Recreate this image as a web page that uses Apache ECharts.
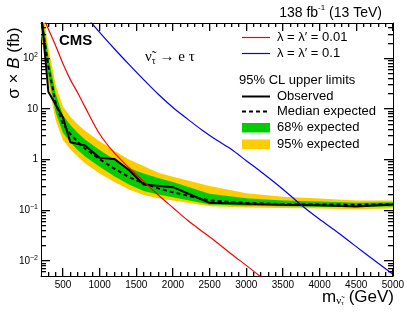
<!DOCTYPE html>
<html><head><meta charset="utf-8">
<script src="https://cdn.jsdelivr.net/npm/echarts@6/dist/echarts.min.js"></script>
<style>html,body{margin:0;padding:0;background:#fff}#c{width:407px;height:318px}</style>
</head><body><div id="c"></div>
<script>
// ---- data ----
const mass      = [200, 300, 400, 500, 600, 700, 800, 1000, 1200, 1400, 1600, 1800, 2000, 2500, 3000, 3500, 4000, 4500, 5000];
const expMedian = [650, 70, 13, 5.0, 3.2, 2.25, 1.65, 1.02, 0.66, 0.45, 0.34, 0.27, 0.225, 0.155, 0.14, 0.132, 0.13, 0.128, 0.132];
const exp1Up    = [1000, 110, 20, 7.5, 4.8, 3.4, 2.5, 1.55, 1.0, 0.68, 0.53, 0.43, 0.36, 0.21, 0.172, 0.155, 0.148, 0.14, 0.143];
const exp1Down  = [420, 45, 8.5, 3.4, 2.2, 1.55, 1.15, 0.72, 0.47, 0.32, 0.24, 0.205, 0.18, 0.13, 0.122, 0.12, 0.117, 0.115, 0.118];
const exp2Up    = [1500, 170, 30, 11, 7.0, 5.0, 3.7, 2.3, 1.5, 1.0, 0.75, 0.55, 0.46, 0.3, 0.215, 0.185, 0.17, 0.155, 0.155];
const exp2Down  = [300, 32, 6, 2.4, 1.6, 1.15, 0.85, 0.53, 0.36, 0.255, 0.2, 0.172, 0.155, 0.12, 0.113, 0.11, 0.108, 0.104, 0.108];
const obsMass   = [200, 300, 500, 600, 800, 1000, 1200, 1400, 1600, 2000, 2500, 3000, 3500, 4000, 4500, 5000];
const observed  = [900, 22, 6.8, 2.2, 1.9, 1.08, 1.03, 0.62, 0.32, 0.285, 0.14, 0.134, 0.128, 0.125, 0.118, 0.13];
const redMass   = [200, 250, 300, 400, 500, 600, 700, 800, 1000, 1200, 1400, 1600, 1800, 2000, 2200, 2400, 2600, 2800, 3000, 3200];
const redXsec   = [830, 560, 380, 178, 78, 38, 21, 11, 3.2, 1.35, 0.69, 0.37, 0.2, 0.112, 0.063, 0.038, 0.023, 0.0135, 0.0081, 0.0048];
const blueMass  = [800, 1000, 1200, 1400, 1600, 1800, 2000, 2200, 2400, 2600, 2800, 3000, 3200, 3400, 3600, 3800, 4000, 4200, 4400, 4600, 4800, 5000];
const blueXsec  = [720, 325, 155, 76, 38, 19.5, 10.7, 6.3, 3.8, 2.4, 1.58, 0.95, 0.575, 0.34, 0.195, 0.11, 0.066, 0.041, 0.0245, 0.0148, 0.0089, 0.0054];
const xMajor    = [500, 1000, 1500, 2000, 2500, 3000, 3500, 4000, 4500, 5000];
const xMinor    = [300, 400, 600, 700, 800, 900, 1100, 1200, 1300, 1400, 1600, 1700, 1800, 1900,
                   2100, 2200, 2300, 2400, 2600, 2700, 2800, 2900, 3100, 3200, 3300, 3400,
                   3600, 3700, 3800, 3900, 4100, 4200, 4300, 4400, 4600, 4700, 4800, 4900];
const yMajor    = [0.01, 0.1, 1, 10, 100];
const yMinor    = [0.006,0.007,0.008,0.009, 0.02,0.03,0.04,0.05,0.06,0.07,0.08,0.09,
                   0.2,0.3,0.4,0.5,0.6,0.7,0.8,0.9, 2,3,4,5,6,7,8,9, 20,30,40,50,60,70,80,90, 200,300,400];

const FONT = '"Liberation Sans", Arial, Helvetica, sans-serif';
const SERIF = '"Liberation Serif", "Times New Roman", serif';
const XMIN = 200, XMAX = 5000, YMIN = 0.005, YMAX = 500;

function pairs(xs, ys){ return xs.map((x,i)=>[x, ys[i]]); }

function bandItem(up, down, color){
  return function(params, api){
    if (params.dataIndex !== 0) return;
    const pts = [];
    for (let i=0;i<mass.length;i++) pts.push(api.coord([mass[i], up[i]]));
    for (let i=mass.length-1;i>=0;i--) pts.push(api.coord([mass[i], down[i]]));
    return {type:'polygon', shape:{points:pts}, style:{fill:color}};
  };
}

function tickItem(params, api){
  if (params.dataIndex !== 0) return;
  const cs = params.coordSys;
  const left = Math.round(cs.x), right = Math.round(cs.x + cs.width), top = Math.round(cs.y), bottom = Math.round(cs.y + cs.height);
  const ch = [];
  function hrect(x, y, w){ ch.push({type:'rect', shape:{x:x, y:Math.floor(y), width:w, height:1.3}, style:{fill:'#000'}}); }
  function vrect(x, y, h){ ch.push({type:'rect', shape:{x:Math.floor(x), y:y, width:1.3, height:h}, style:{fill:'#000'}}); }
  function yt(v, len){
    const y = api.coord([XMIN, v])[1];
    hrect(left, y, len);
    hrect(right - len, y, len);
  }
  function xt(v, len){
    const x = api.coord([v, 1])[0];
    vrect(x, bottom - len, len);
    vrect(x, top, len);
  }
  yMinor.forEach(v=>yt(v, 5));
  yMajor.forEach(v=>yt(v, 9));
  xMinor.forEach(v=>xt(v, 4));
  xMajor.forEach(v=>xt(v, 8));
  return {type:'group', children:ch};
}

function yFmt(v){
  const e = Math.round(Math.log10(v));
  if (Math.abs(Math.log10(v) - e) > 1e-6) return '';
  if (e === 0) return '1';
  if (e === 1) return '10';
  return '10{s|' + (e < 0 ? '\u2212' + (-e) : e) + '}';
}

const xBase = {type:'value', min:XMIN, max:XMAX, splitLine:{show:false}};
const chart = echarts.init(document.getElementById('c'));
chart.setOption({
  animation:false,
  backgroundColor:'#fff',
  grid:{left:41, right:14, top:23, bottom:42, show:false},
  xAxis:[
    Object.assign({}, xBase, {position:'bottom',
      axisLine:{onZero:false, lineStyle:{color:'#000', width:1}},
      axisTick:{show:false},
      axisLabel:{customValues:xMajor, formatter:v=>String(v), fontSize:10, fontFamily:FONT, color:'#000', margin:4}}),
    Object.assign({}, xBase, {position:'top',
      axisLine:{onZero:false, lineStyle:{color:'#000', width:1}},
      axisTick:{show:false},
      axisLabel:{show:false}})
  ],
  yAxis:[
    {type:'log', logBase:10, min:YMIN, max:YMAX, position:'left', splitLine:{show:false},
      axisLine:{show:true, onZero:false, lineStyle:{color:'#000', width:1}},
      axisTick:{show:false},
      axisLabel:{formatter:yFmt, fontSize:10, fontFamily:FONT, color:'#000', margin:3, lineHeight:13,
        showMinLabel:false, showMaxLabel:false,
        rich:{s:{fontSize:7, fontFamily:FONT, color:'#000', verticalAlign:'top', lineHeight:8}}}},
    {type:'log', logBase:10, min:YMIN, max:YMAX, position:'right', splitLine:{show:false},
      axisLine:{show:true, onZero:false, lineStyle:{color:'#000', width:1}},
      axisTick:{show:false},
      axisLabel:{show:false}}
  ],
  series:[
    {type:'custom', clip:true, data:[[1000,1]], encode:{x:0,y:1}, renderItem:bandItem(exp2Up, exp2Down, '#ffcc00'), z:1},
    {type:'custom', clip:true, data:[[1000,1]], encode:{x:0,y:1}, renderItem:bandItem(exp1Up, exp1Down, '#00cc00'), z:2},
    {type:'line', data:pairs(mass, expMedian), showSymbol:false, symbol:'none', clip:true, z:3,
      lineStyle:{color:'#000', width:2, type:[4,3]}},
    {type:'line', data:pairs(obsMass, observed), showSymbol:false, symbol:'none', clip:true, z:4,
      lineStyle:{color:'#000', width:2}},
    {type:'line', data:pairs(redMass, redXsec), showSymbol:false, symbol:'none', smooth:0.3, clip:true, z:5,
      lineStyle:{color:'#ff0000', width:1.2}},
    {type:'line', data:pairs(blueMass, blueXsec), showSymbol:false, symbol:'none', smooth:0.3, clip:true, z:5,
      lineStyle:{color:'#0000ff', width:1.2}},
    {type:'custom', data:[[1000,1]], encode:{x:0,y:1}, renderItem:tickItem, z:10}
  ],
  graphic:[
    {type:'text', style:{text:'{a|138 fb}{s|-1}{a| (13 TeV)}', x:382, y:12, align:'right', verticalAlign:'middle',
      rich:{a:{fontSize:14, fontFamily:FONT, fill:'#000', lineHeight:16, verticalAlign:'bottom'},
            s:{fontSize:8, fontFamily:FONT, fill:'#000', verticalAlign:'top', lineHeight:8}}}},
    {type:'text', style:{text:'CMS', x:59, y:41, fontSize:15, fontWeight:'bold', fontFamily:FONT, fill:'#000', verticalAlign:'middle'}},
    {type:'text', style:{text:'{a|\u03BD\u0303}{s|\u03C4}{a| \u2192 e \u03C4}', x:145, y:58, verticalAlign:'middle',
      rich:{a:{fontSize:15, fontFamily:SERIF, fill:'#000', lineHeight:16, verticalAlign:'top'},
            s:{fontSize:10, fontFamily:SERIF, fill:'#000', verticalAlign:'bottom', lineHeight:10, padding:[9,0,0,0]}}}},
    {type:'text', rotation:Math.PI/2, x:14, y:63, style:{text:'{a|\u03C3 \u00D7 }{i|B}{a| (fb)}', align:'center', verticalAlign:'middle',
      rich:{a:{fontSize:17, fontFamily:FONT, fill:'#000'}, i:{fontSize:17, fontFamily:FONT, fontStyle:'italic', fill:'#000'}}}},
    {type:'text', style:{text:'{a|m}{s|\u03BD\u0303}{ss|\u03C4}{a| (GeV)}', x:394, y:298, align:'right', verticalAlign:'middle',
      rich:{a:{fontSize:17, fontFamily:FONT, fill:'#000', lineHeight:18, verticalAlign:'top'},
            s:{fontSize:11, fontFamily:SERIF, fill:'#000', verticalAlign:'bottom', lineHeight:11, padding:[12,0,0,0]},
            ss:{fontSize:7, fontFamily:SERIF, fill:'#000', verticalAlign:'bottom', lineHeight:7, padding:[16,0,0,0]}}}},
    {type:'line', shape:{x1:242, y1:37.5, x2:270, y2:37.5}, style:{stroke:'#ff0000', lineWidth:1.2}},
    {type:'text', style:{text:'\u03BB = \u03BB\u2032 = 0.01', x:277, y:37.5, fontSize:13, fontFamily:FONT, fill:'#000', verticalAlign:'middle'}},
    {type:'line', shape:{x1:242, y1:53.5, x2:270, y2:53.5}, style:{stroke:'#0000ff', lineWidth:1.2}},
    {type:'text', style:{text:'\u03BB = \u03BB\u2032 = 0.1', x:277, y:53.5, fontSize:13, fontFamily:FONT, fill:'#000', verticalAlign:'middle'}},
    {type:'text', style:{text:'95% CL upper limits', x:239, y:80, fontSize:13, fontFamily:FONT, fill:'#000', verticalAlign:'middle'}},
    {type:'line', shape:{x1:242, y1:96.5, x2:270, y2:96.5}, style:{stroke:'#000', lineWidth:2}},
    {type:'text', style:{text:'Observed', x:277, y:96.5, fontSize:13, fontFamily:FONT, fill:'#000', verticalAlign:'middle'}},
    {type:'line', shape:{x1:242, y1:111.5, x2:270, y2:111.5}, style:{stroke:'#000', lineWidth:2, lineDash:[4,3]}},
    {type:'text', style:{text:'Median expected', x:277, y:111.5, fontSize:13, fontFamily:FONT, fill:'#000', verticalAlign:'middle'}},
    {type:'rect', shape:{x:242, y:123, width:28, height:9.5}, style:{fill:'#00cc00'}},
    {type:'text', style:{text:'68% expected', x:277, y:127.5, fontSize:13, fontFamily:FONT, fill:'#000', verticalAlign:'middle'}},
    {type:'rect', shape:{x:242, y:139.5, width:28, height:9.5}, style:{fill:'#ffcc00'}},
    {type:'text', style:{text:'95% expected', x:277, y:144, fontSize:13, fontFamily:FONT, fill:'#000', verticalAlign:'middle'}}
  ]
});
</script>
</body></html>
